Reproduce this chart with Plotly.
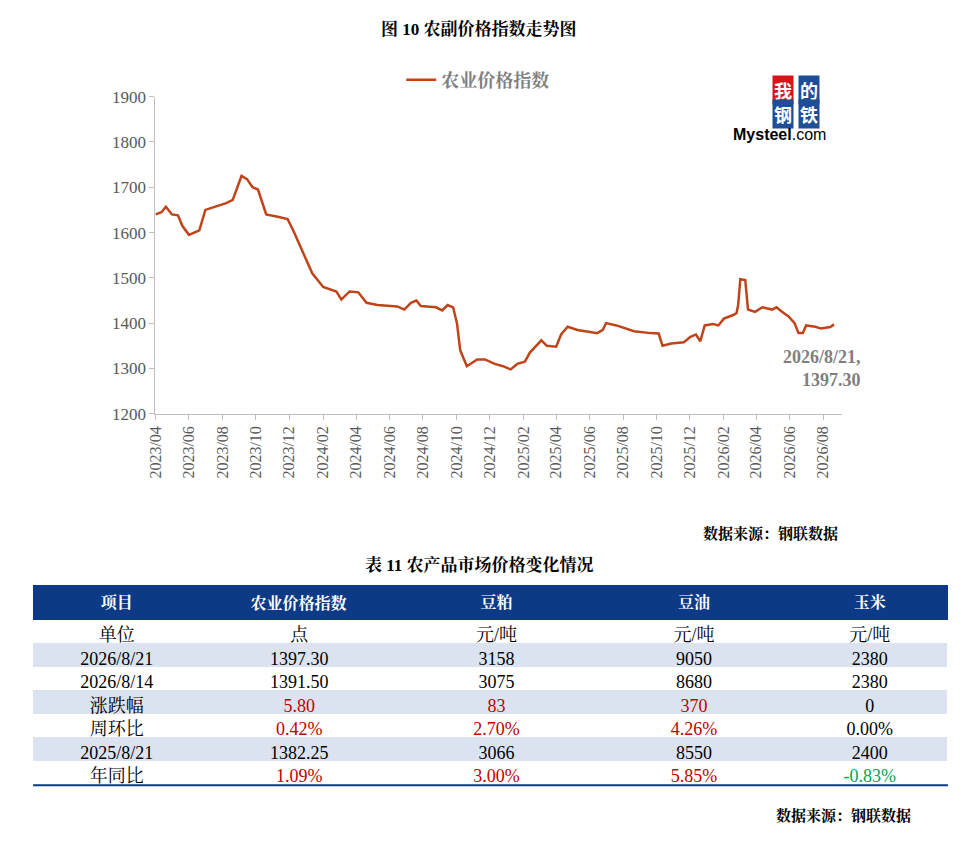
import plotly.graph_objects as go

dates = ["2023-04-01","2023-04-12","2023-04-20","2023-05-01","2023-05-12","2023-05-20","2023-06-01","2023-06-12","2023-06-20","2023-07-01","2023-07-25","2023-08-08","2023-08-20","2023-09-05","2023-09-15","2023-09-25","2023-10-05","2023-10-20","2023-11-10","2023-11-28","2023-12-10","2023-12-25","2024-01-12","2024-02-01","2024-02-25","2024-03-05","2024-03-20","2024-04-05","2024-04-20","2024-05-10","2024-06-15","2024-06-28","2024-07-10","2024-07-20","2024-07-28","2024-08-25","2024-09-05","2024-09-15","2024-09-25","2024-10-02","2024-10-08","2024-10-20","2024-11-08","2024-11-22","2024-12-10","2024-12-25","2025-01-08","2025-01-20","2025-02-03","2025-02-12","2025-02-20","2025-03-05","2025-03-15","2025-04-01","2025-04-10","2025-04-22","2025-05-10","2025-06-01","2025-06-15","2025-06-25","2025-07-01","2025-07-20","2025-08-05","2025-08-21","2025-09-20","2025-10-05","2025-10-12","2025-10-28","2025-11-20","2025-12-02","2025-12-12","2025-12-20","2025-12-28","2026-01-12","2026-01-22","2026-02-01","2026-02-18","2026-02-24","2026-02-27","2026-03-03","2026-03-12","2026-03-17","2026-03-30","2026-04-12","2026-04-30","2026-05-08","2026-05-18","2026-05-30","2026-06-10","2026-06-17","2026-06-25","2026-07-01","2026-07-18","2026-07-28","2026-08-14","2026-08-21"]
values = [1640,1645,1657,1640,1638,1615,1595,1600,1605,1650,1660,1665,1672,1725,1718,1700,1695,1640,1635,1630,1600,1560,1510,1480,1470,1452,1470,1468,1445,1440,1437,1430,1445,1450,1438,1435,1428,1440,1435,1400,1340,1305,1320,1320,1310,1305,1298,1310,1315,1335,1345,1362,1350,1348,1375,1392,1385,1380,1378,1385,1400,1395,1388,1382.25,1378,1377,1350,1355,1358,1370,1375,1360,1395,1398,1395,1410,1418,1422,1440,1497,1495,1430,1425,1435,1430,1435,1425,1415,1400,1378,1378,1395,1392,1388,1391.5,1397.3]

tick_vals = ["2023-04-01","2023-06-01","2023-08-01","2023-10-01","2023-12-01","2024-02-01","2024-04-01","2024-06-01","2024-08-01","2024-10-01","2024-12-01","2025-02-01","2025-04-01","2025-06-01","2025-08-01","2025-10-01","2025-12-01","2026-02-01","2026-04-01","2026-06-01","2026-08-01"]
tick_text = [d[:7].replace("-", "/") for d in tick_vals]

header = ["项目","农业价格指数","豆粕","豆油","玉米"]
row_labels = ["单位","2026/8/21","2026/8/14","涨跌幅","周环比","2025/8/21","年同比"]
col_index = ["点","1397.30","1391.50","5.80","0.42%","1382.25","1.09%"]
col_meal = ["元/吨","3158","3075","83","2.70%","3066","3.00%"]
col_oil = ["元/吨","9050","8680","370","4.26%","8550","5.85%"]
col_corn = ["元/吨","2380","2380","0","0.00%","2400","-0.83%"]

SERIF = "Liberation Serif, Noto Serif CJK SC, Noto Sans CJK SC, serif"
RED = "#C00000"; BLK = "#000000"; GRN = "#00A651"
def colors(col):
    out = []
    for i, v in enumerate(col):
        if i in (3, 4, 6):
            if v.startswith("-"):
                out.append(GRN)
            elif v in ("0", "0.00%"):
                out.append(BLK)
            else:
                out.append(RED)
        else:
            out.append(BLK)
    return out

fig = go.Figure()
fig.add_trace(go.Scatter(x=dates, y=values, mode="lines", name="<b>农业价格指数</b>",
                         line=dict(color="#C0441A", width=2.5)))

light = "#DCE3F0"
fills = ["white", light, "white", light, "white", light, "white"]
fig.add_trace(go.Table(
    domain=dict(x=[0.0167, 0.9667], y=[0.05, 0.3145]),
    columnwidth=[1.95, 2.3, 2.3, 2.3, 1.8],
    header=dict(values=["<b>%s</b>" % h for h in header], fill_color="#0D3A87",
                line_color="#0D3A87", height=22,
                font=dict(color="white", size=16, family=SERIF), align="center"),
    cells=dict(values=[row_labels, col_index, col_meal, col_oil, col_corn],
               fill_color=[fills]*5, line_color="rgba(0,0,0,0)", height=23.5,
               font=dict(size=18, family=SERIF,
                         color=[[BLK]*7, colors(col_index), colors(col_meal), colors(col_oil), colors(col_corn)]),
               align="center")))

fig.update_layout(
    width=972, height=849, margin=dict(l=0, r=0, t=0, b=0),
    paper_bgcolor="white", plot_bgcolor="white",
    font=dict(family=SERIF),
    showlegend=True,
    legend=dict(x=0.399, y=0.924, xanchor="left", yanchor="middle", orientation="h",
                font=dict(size=18, color="#7F7F7F", family="Noto Serif CJK SC, Noto Sans CJK SC"),
                bgcolor="rgba(0,0,0,0)"),
    xaxis=dict(domain=[0.1438, 0.857], range=["2023-04-01", "2026-09-05"], type="date",
               tickvals=tick_vals, ticktext=tick_text, tickangle=-90, showgrid=False,
               showline=True, linecolor="#BFBFBF", ticks="outside", tickcolor="#BFBFBF", ticklen=5,
               tickfont=dict(size=16, color="#595959", family=SERIF)),
    yaxis=dict(domain=[0.522, 0.904], range=[1200, 1900], dtick=100, showgrid=False,
               showline=True, linecolor="#BFBFBF", ticks="outside", tickcolor="#BFBFBF", ticklen=5,
               tickfont=dict(size=17, color="#595959", family=SERIF)),
)

fig.add_annotation(xref="paper", yref="paper", x=0.48, y=1.0, yanchor="top", showarrow=False,
                   text="<b>图 10 农副价格指数走势图</b>", font=dict(size=17, color="black", family=SERIF))
fig.add_annotation(xref="paper", yref="paper", x=0.878, y=0.577, showarrow=False, align="right",
                   xanchor="right", text="<b>2026/8/21,<br>1397.30</b>", font=dict(size=18, color="#7F7F7F", family=SERIF))
fig.add_annotation(xref="paper", yref="paper", x=0.855, y=0.378, showarrow=False, xanchor="right",
                   text="<b>数据来源：钢联数据</b>", font=dict(size=15, color="black", family=SERIF))
fig.add_annotation(xref="paper", yref="paper", x=0.48, y=0.34, showarrow=False,
                   text="<b>表 11 农产品市场价格变化情况</b>", font=dict(size=17, color="black", family=SERIF))
fig.add_annotation(xref="paper", yref="paper", x=0.930, y=0.025, showarrow=False, xanchor="right",
                   text="<b>数据来源：钢联数据</b>", font=dict(size=15, color="black", family=SERIF))
# logo
for txt, xc, yc, col in [("我", 0.807, 0.930, "#D7141A"), ("的", 0.834, 0.930, "#1F4E96"),
                         ("钢", 0.807, 0.901, "#1F4E96"), ("铁", 0.834, 0.901, "#1F4E96")]:
    fig.add_annotation(xref="paper", yref="paper", x=xc, y=yc, showarrow=False, text="<b>%s</b>" % txt,
                       bgcolor=col, font=dict(size=18, color="white", family="Noto Sans CJK SC"), borderpad=1)
fig.add_annotation(xref="paper", yref="paper", x=0.842, y=0.871, showarrow=False,
                   text="<b>Mysteel</b>.com", font=dict(size=16, color="black", family="Liberation Sans Narrow, Liberation Sans"))
# table bottom border
fig.add_shape(type="line", xref="paper", yref="paper", x0=0.0167, x1=0.9667, y0=0.0745, y1=0.0745,
              line=dict(color="#0D3A87", width=2))

fig.write_html("out.html")
